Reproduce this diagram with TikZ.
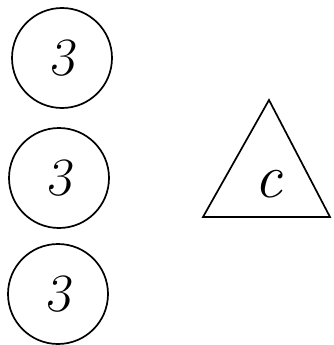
\documentclass[tikz,border=0pt]{standalone}
\begin{document}
\begin{tikzpicture}[x=1pt,y=-1pt,
  ring/.style={draw,line width=1.7pt,circle,minimum size=100pt,inner sep=0pt,font=\fontsize{54}{58}\selectfont\slshape},
  tri/.style={draw,line width=1.7pt,line join=miter}]
\useasboundingbox (0,0) rectangle (334,345);
\node[ring] (c1) at (62,58) {3};
\node[ring] (c2) at (59,178) {3};
\node[ring] (c3) at (58,294) {3};
\coordinate (ta) at (269,100);
\coordinate (tl) at (203,217);
\coordinate (tr) at (330,217);
\draw[tri] (ta) -- (tl) -- (tr) -- cycle;
\node[font=\fontsize{62}{66}\selectfont\itshape,anchor=base] (lc) at (268,197) {c};
\end{tikzpicture}
\end{document}
